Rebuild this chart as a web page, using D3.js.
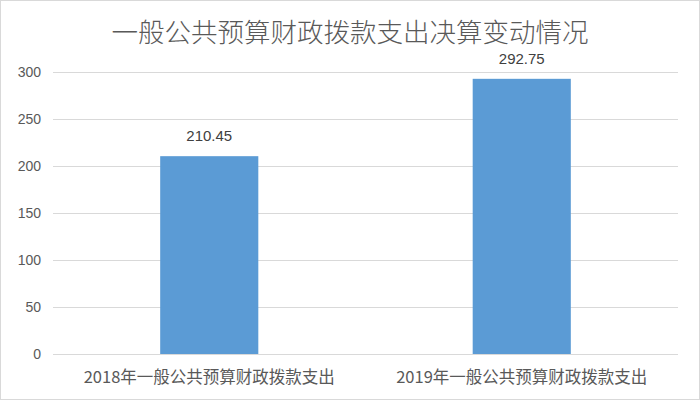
<!DOCTYPE html>
<html>
<head>
<meta charset="utf-8">
<script src="https://cdn.jsdelivr.net/npm/d3@7"></script>
<style>
  body { margin: 0; background: #fff; }
  svg { display: block; font-family: "Microsoft YaHei", "Noto Sans CJK SC", sans-serif; }
</style>
</head>
<body>
<div id="chart"></div>
<script>
const title = '一般公共预算财政拨款支出决算变动情况';
const categories = ['2018年一般公共预算财政拨款支出', '2019年一般公共预算财政拨款支出'];
const values = [210.45, 292.75];
const yTicks = [0, 50, 100, 150, 200, 250, 300];

const width = 700, height = 400;
const margin = {top: 72, right: 22, bottom: 46, left: 53};

const svg = d3.select('#chart').append('svg')
    .attr('width', width)
    .attr('height', height);

// outer border
svg.append('rect')
    .attr('x', 0.5).attr('y', 0.5)
    .attr('width', width - 1).attr('height', height - 1)
    .attr('fill', '#fff')
    .attr('stroke', '#d9d9d9');

const x = d3.scaleBand()
    .domain(categories)
    .range([margin.left, width - margin.right])
    .paddingInner(0.686)
    .paddingOuter(0.343);

const y = d3.scaleLinear()
    .domain([0, 300])
    .range([height - margin.bottom, margin.top]);

// gridlines + y labels
const yAxis = svg.append('g')
    .attr('transform', `translate(${margin.left},0)`)
    .call(d3.axisLeft(y).tickValues(yTicks).tickSize(-(width - margin.left - margin.right)).tickPadding(12));
yAxis.select('.domain').remove();
yAxis.selectAll('line').attr('stroke', '#d9d9d9');
yAxis.selectAll('text')
    .attr('fill', '#595959')
    .style('font-size', '14px')
    .style('font-family', '"Liberation Sans Narrow", "Liberation Sans", sans-serif');

// bars
svg.selectAll('.bar')
    .data(values)
    .join('rect')
    .attr('class', 'bar')
    .attr('x', (d, i) => x(categories[i]))
    .attr('y', d => y(d))
    .attr('width', x.bandwidth())
    .attr('height', d => y(0) - y(d))
    .attr('fill', '#5b9bd5');

// value labels
svg.selectAll('.val')
    .data(values)
    .join('text')
    .attr('class', 'val')
    .attr('x', (d, i) => x(categories[i]) + x.bandwidth() / 2)
    .attr('y', d => y(d) - 15)
    .attr('text-anchor', 'middle')
    .attr('fill', '#404040')
    .style('font-size', '15px')
    .style('font-family', '"Liberation Sans Narrow", "Liberation Sans", sans-serif')
    .text(d => d.toFixed(2));

// category labels
svg.selectAll('.cat')
    .data(categories)
    .join('text')
    .attr('class', 'cat')
    .attr('x', d => x(d) + x.bandwidth() / 2)
    .attr('y', height - margin.bottom + 29)
    .attr('text-anchor', 'middle')
    .attr('fill', '#595959')
    .style('font-size', '16.5px')
    .text(d => d);

// title
svg.append('text')
    .attr('x', width / 2)
    .attr('y', 42)
    .attr('text-anchor', 'middle')
    .attr('fill', '#595959')
    .style('font-size', '26.5px')
    .style('font-weight', 300)
    .text(title);
</script>
</body>
</html>
